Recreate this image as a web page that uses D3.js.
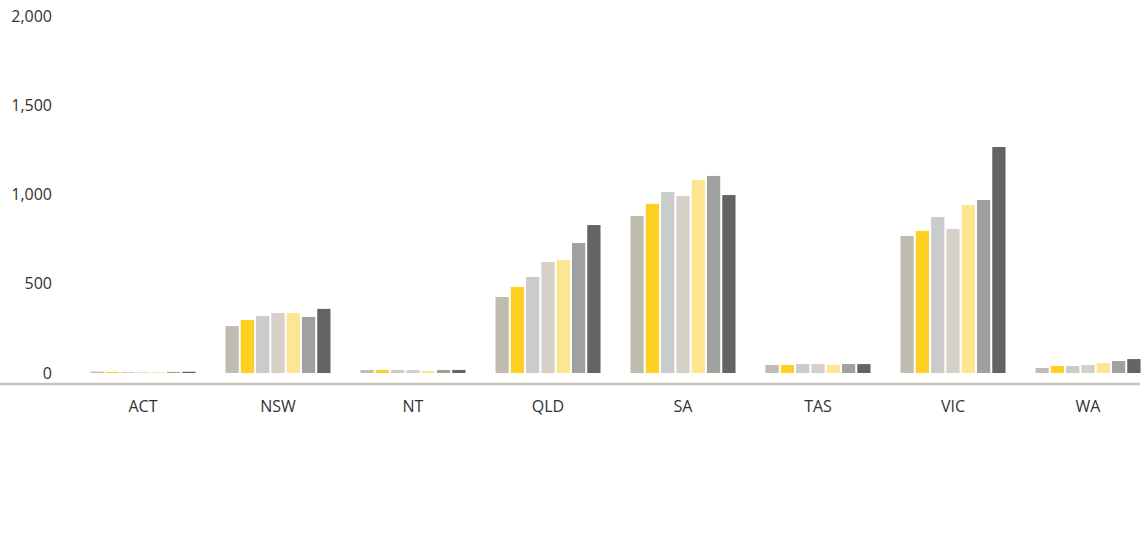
<!DOCTYPE html>
<html>
<head>
<meta charset="utf-8">
<script src="https://cdn.jsdelivr.net/npm/d3@7"></script>
<style>
  html, body { margin: 0; padding: 0; background: #fff; }
  svg text { font-family: "Open Sans", "Noto Sans", sans-serif; fill: #333; }
</style>
</head>
<body>
<svg id="chart" width="1146" height="541"></svg>
<script>
// States / territories along the x axis
const states = ["ACT", "NSW", "NT", "QLD", "SA", "TAS", "VIC", "WA"];

// Seven series per state (one value per state, in the order above)
const series1 = [8, 263, 17, 426, 880, 45, 768, 28];
const series2 = [6, 297, 17, 482, 947, 45, 796, 39];
const series3 = [5, 319, 17, 538, 1014, 50, 874, 39];
const series4 = [4, 336, 17, 622, 992, 50, 807, 45];
const series5 = [5, 336, 11, 633, 1081, 45, 941, 56];
const series6 = [6, 314, 17, 728, 1104, 50, 969, 67];
const series7 = [7, 359, 17, 829, 997, 50, 1266, 78];

const seriesNames = ["s1", "s2", "s3", "s4", "s5", "s6", "s7"];
const seriesColors = ["#c1bcb0", "#fdd023", "#cacccb", "#d6d1c6", "#fee592", "#9fa09f", "#636563"];
const yTicks = [0, 500, 1000, 1500, 2000];

const allSeries = [series1, series2, series3, series4, series5, series6, series7];
const rows = states.map((s, i) => ({
  state: s,
  values: seriesNames.map((n, j) => ({ key: n, value: allSeries[j][i] }))
}));

const svg = d3.select("#chart");

const x = d3.scaleBand().domain(states).range([60.5, 1170.5]).padding(0.222);
const x1 = d3.scaleBand().domain(seriesNames).range([0, x.bandwidth()]).paddingInner(0.133).paddingOuter(0);
const y = d3.scaleLinear().domain([0, 2000]).range([373, 16]);
const color = d3.scaleOrdinal().domain(seriesNames).range(seriesColors);

// Y axis labels (no line, no ticks)
const yAxis = svg.append("g")
  .attr("transform", "translate(52,0)")
  .call(d3.axisLeft(y).tickValues(yTicks).tickSize(0).tickPadding(0).tickFormat(d3.format(",")));
yAxis.select(".domain").remove();
yAxis.selectAll("text").style("font-size", "16px").attr("fill", "#333")
  .style("font-family", "'Open Sans', 'Noto Sans', sans-serif");

// Bars
const groups = svg.append("g").selectAll("g")
  .data(rows).join("g")
  .attr("transform", d => `translate(${x(d.state)},0)`);

groups.selectAll("rect")
  .data(d => d.values).join("rect")
  .attr("x", d => x1(d.key))
  .attr("width", x1.bandwidth())
  .attr("y", d => y(d.value))
  .attr("height", d => y(0) - y(d.value))
  .attr("fill", d => color(d.key));

// Baseline rule
svg.append("line")
  .attr("x1", 0).attr("x2", 1140)
  .attr("y1", 384).attr("y2", 384)
  .attr("stroke", "#c8c3b6").attr("stroke-width", 2.5);

// Category labels
const xAxis = svg.append("g")
  .attr("transform", "translate(0,401)")
  .call(d3.axisBottom(x).tickSize(0).tickPadding(0));
xAxis.select(".domain").remove();
xAxis.selectAll("text").style("font-size", "16px").attr("fill", "#333")
  .style("font-family", "'Open Sans', 'Noto Sans', sans-serif");
</script>
</body>
</html>
